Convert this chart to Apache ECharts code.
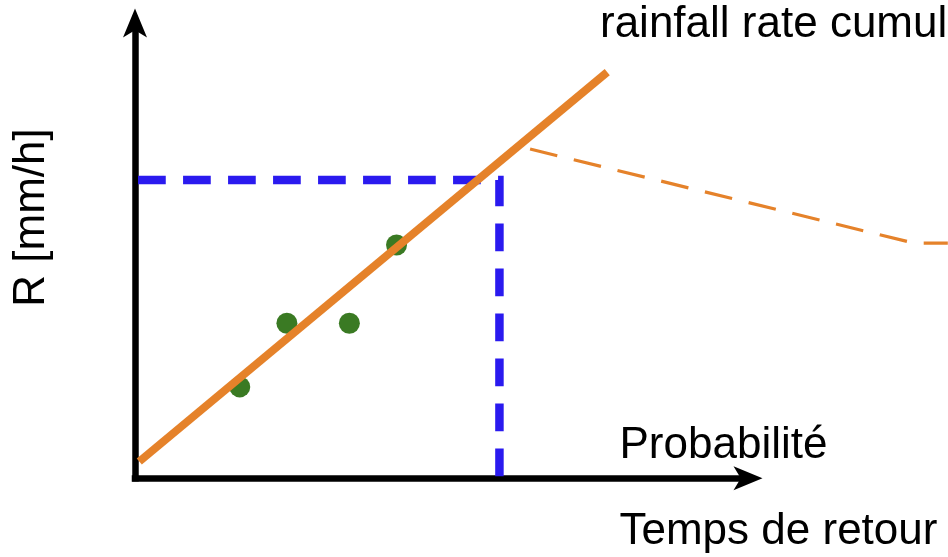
<!DOCTYPE html>
<html>
<head>
<meta charset="utf-8">
<script src="https://cdn.jsdelivr.net/npm/echarts@6/dist/echarts.min.js"></script>
<style>
html,body{margin:0;padding:0;background:#fff;}
#chart{width:948px;height:557px;}
</style>
</head>
<body>
<div id="chart"></div>
<script>
// Observed data (arbitrary units, no tick labels in the reference)
const pointsX = [1.71, 2.48, 3.50, 4.27];
const pointsY = [2.01, 3.41, 3.41, 5.13];
const fitX = [0.07, 7.71];
const fitY = [0.37, 8.93];
const thresholdX = [0.05, 5.95, 5.95];
const thresholdY = [6.56, 6.56, 0];
const cumulX = [6.45, 12.72, 13.27];
const cumulY = [7.24, 5.17, 5.17];
const titleText = 'rainfall rate cumulative';
const xLabel = 'Probabilité';
const xLabel2 = 'Temps de retour';
const yLabel = 'R [mm/h]';

const zip = (a, b) => a.map((v, i) => [v, b[i]]);
const FONT = '"Liberation Sans", Arial, sans-serif';

const chart = echarts.init(document.getElementById('chart'), null, {renderer: 'canvas'});
const axisCommon = {
  type: 'value', min: 0, max: 10, gridIndex: 0,
  axisLine: {show: true, onZero: false, symbol: ['none', 'arrow'], symbolSize: [18, 29], symbolOffset: [0, 15],
    lineStyle: {color: '#000', width: 6.5, cap: 'square'}},
  axisTick: {show: false}, axisLabel: {show: false}, splitLine: {show: false}
};
const hiddenAxis = {type: 'value', min: 0, gridIndex: 1, show: false,
  axisLine: {show: false}, axisTick: {show: false}, axisLabel: {show: false}, splitLine: {show: false}};
chart.setOption({
  animation: false,
  backgroundColor: '#fff',
  grid: [
    {left: 135, right: 200.5, top: 23.5, bottom: 78.7, containLabel: false},
    {left: 135, right: 0, top: 23.5, bottom: 78.7, containLabel: false}
  ],
  xAxis: [Object.assign({}, axisCommon), Object.assign({}, hiddenAxis, {max: 13.273})],
  yAxis: [Object.assign({}, axisCommon), Object.assign({}, hiddenAxis, {max: 10})],
  series: [
    {type: 'line', data: zip(thresholdX, thresholdY), symbol: 'none', z: 2,
     lineStyle: {color: '#2a1aef', width: 8.5, type: [27.7, 17.3], cap: 'butt', join: 'miter'}},
    {type: 'scatter', data: zip(pointsX, pointsY), symbolSize: 21, z: 3,
     itemStyle: {color: '#3a7a23', opacity: 1}},
    {type: 'line', data: zip(fitX, fitY), symbol: 'none', z: 4,
     lineStyle: {color: '#e5822a', width: 8, cap: 'butt'}},
    {type: 'line', xAxisIndex: 1, yAxisIndex: 1, data: zip(cumulX, cumulY), symbol: 'none', z: 4,
     lineStyle: {color: '#e5822a', width: 3.2, type: [28, 17], cap: 'butt'}}
  ],
  graphic: [
    {type: 'text', x: 600, y: 24.8, style: {text: titleText, font: '44px ' + FONT, fill: '#000', textAlign: 'left', textVerticalAlign: 'middle'}},
    {type: 'text', x: 619.5, y: 446.3, style: {text: xLabel, font: '44px ' + FONT, fill: '#000', textAlign: 'left', textVerticalAlign: 'middle'}},
    {type: 'text', x: 619.5, y: 532, style: {text: xLabel2, font: '44px ' + FONT, fill: '#000', textAlign: 'left', textVerticalAlign: 'middle'}},
    {type: 'text', x: 31.8, y: 217.5, rotation: Math.PI / 2, style: {text: yLabel, font: '44px ' + FONT, fill: '#000', textAlign: 'center', textVerticalAlign: 'middle'}}
  ]
});
</script>
</body>
</html>
